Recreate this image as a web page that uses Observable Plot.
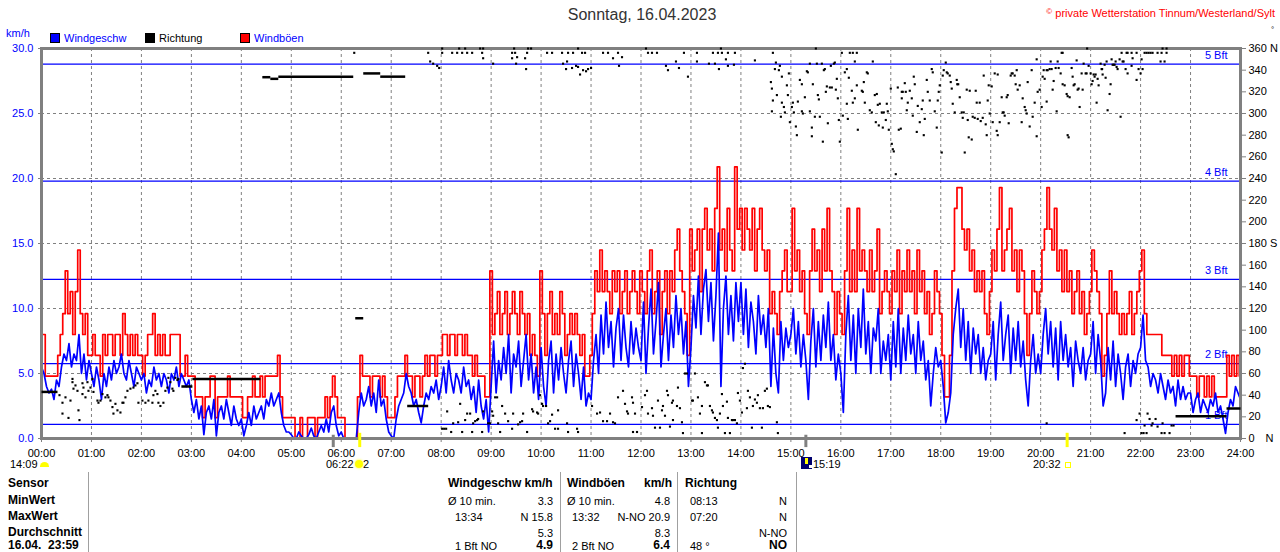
<!DOCTYPE html>
<html><head><meta charset="utf-8">
<script src="https://cdn.jsdelivr.net/npm/d3@7"></script>
<script src="https://cdn.jsdelivr.net/npm/@observablehq/plot@0.6"></script>
<style>
body{margin:0;background:#fff;font-family:"Liberation Sans",Arial,sans-serif;}
#wrap{position:relative;width:1280px;height:552px;overflow:hidden;background:#fff;}
#wrap svg{position:absolute;left:0;top:0;}
.t{position:absolute;white-space:nowrap;color:#000;}
.box{position:absolute;}
</style></head><body><div id="wrap"></div>
<script>
// ---- data (3-minute samples, 00:00 .. 24:00), km/h ----
const stepMinutes = 3;
const windSpeed = [
 5.5,5.0,4.0,3.5,3.8,3.0,4.5,4.0,5.5,6.5,6.0,7.3,5.5,6.5,6.0,8.0,5.0,6.5,4.5,6.0,        // 00
 5.0,4.0,5.5,4.5,3.0,5.0,4.0,5.5,4.5,6.0,5.0,5.5,6.5,5.0,4.5,6.0,5.0,4.0,5.5,5.0,        // 01
 4.5,5.0,3.5,4.5,4.0,5.5,4.5,5.0,4.0,5.0,4.5,3.5,5.0,4.5,5.5,4.0,5.0,4.5,4.0,4.5,        // 02
 3.0,2.0,3.0,1.5,2.5,0.3,2.0,2.5,1.5,3.0,0.2,2.0,2.5,1.5,3.0,2.0,1.0,2.5,1.5,1.0,        // 03
 1.5,0.2,1.0,2.0,1.0,2.5,1.5,2.0,2.5,1.5,3.0,2.5,3.5,2.5,3.0,3.5,2.0,1.0,0.5,0.5,        // 04
 0.3,0.0,0.0,0.5,0.2,0.0,0.0,0.3,0.8,0.2,0.0,0.5,1.0,0.5,1.5,0.5,2.0,2.5,1.0,0.2,        // 05
 0.5,0.0,0.0,0.0,0.0,0.0,0.0,2.0,3.5,2.5,3.0,4.0,2.5,3.5,2.0,4.5,2.5,3.0,1.5,0.5,        // 06
 0.2,0.0,1.5,2.5,3.0,3.5,5.0,4.0,3.5,2.5,3.0,2.0,1.2,2.5,3.5,3.0,4.0,3.5,4.5,3.0,        // 07
 4.0,5.5,3.5,6.0,4.5,3.5,5.0,4.5,3.5,5.5,4.0,4.5,3.0,4.0,2.0,4.5,2.5,1.5,3.0,0.5,        // 08
 4.0,7.5,3.5,6.0,4.5,7.0,5.0,8.0,3.5,6.5,5.5,7.5,4.0,6.0,8.0,4.5,6.5,3.5,5.5,3.0,        // 09
 7.0,4.0,2.5,6.0,7.5,3.5,6.5,4.5,7.0,5.0,3.5,6.0,7.5,4.0,6.5,5.0,3.0,5.5,2.5,3.5,        // 10
 3.0,6.0,8.0,5.0,9.5,6.5,10.5,7.0,9.0,5.5,8.5,10.0,6.0,9.5,7.0,5.5,9.0,6.5,8.5,7.0,      // 11
 6.0,10.5,5.0,8.5,11.5,6.5,9.0,12.0,5.5,8.0,10.0,6.0,9.5,7.0,11.0,8.0,10.0,6.5,9.0,4.0,  // 12
 7.0,11.0,8.5,12.5,8.0,11.5,13.0,9.0,12.0,7.5,11.0,15.8,4.0,10.0,12.5,8.0,11.0,7.5,12.0,9.0, // 13
 12.0,8.0,11.5,7.0,10.5,9.0,6.5,11.0,8.0,9.5,7.0,10.0,4.0,8.5,5.0,3.5,9.0,6.0,8.5,7.0,   // 14
 8.0,10.0,6.5,9.0,5.5,8.0,6.0,3.0,7.5,10.0,5.5,9.0,6.0,9.5,7.0,10.5,6.0,8.0,4.5,6.5,     // 15
 5.0,2.0,8.0,11.0,6.0,9.5,5.0,10.0,7.0,11.5,6.5,9.0,5.0,8.5,7.5,10.0,5.0,7.5,6.0,8.0,    // 16
 4.5,9.0,5.5,10.0,5.0,8.5,6.0,9.5,6.5,8.0,5.0,9.0,6.0,7.5,4.5,6.0,2.5,5.0,7.0,5.5,       // 17
 6.0,4.0,1.2,2.0,3.5,8.0,10.0,11.5,7.0,10.0,6.0,9.0,5.0,8.5,6.5,8.0,5.0,7.0,4.5,6.0,     // 18
 6.5,9.0,4.5,8.0,10.5,6.0,8.0,9.5,5.0,8.5,6.0,9.0,5.5,7.5,4.5,2.5,6.0,8.0,5.0,6.5,       // 19
 5.0,8.0,10.0,6.5,9.0,5.5,8.5,4.5,9.0,6.0,8.0,5.5,7.0,4.0,7.5,6.0,5.0,7.0,4.5,6.0,       // 20
 6.5,9.0,5.0,8.0,6.0,2.5,3.5,7.0,4.5,7.5,4.0,6.5,5.0,3.0,5.5,6.5,4.0,6.0,5.0,6.5,        // 21
 7.0,9.5,6.0,5.5,4.0,5.0,4.5,3.5,5.0,4.0,3.0,4.5,3.5,4.0,2.5,4.5,3.0,4.0,3.0,3.5,        // 22
 3.5,2.0,3.0,3.5,2.0,3.0,2.5,2.0,3.0,2.5,3.5,2.0,2.5,1.5,0.4,2.0,3.0,2.5,4.0,3.5,        // 23
 3.0
];
const windGust = [
 8.0,8.0,4.8,4.8,4.8,4.8,4.8,6.4,8.0,9.6,12.9,9.6,11.3,8.0,11.3,14.5,9.6,8.0,9.6,6.4,
 6.4,8.0,6.4,6.4,4.8,8.0,6.4,8.0,8.0,6.4,8.0,8.0,6.4,9.6,8.0,6.4,8.0,6.4,8.0,6.4,
 6.4,4.8,6.4,8.0,8.0,9.6,6.4,8.0,6.4,8.0,6.4,6.4,8.0,8.0,8.0,8.0,4.8,4.8,6.4,4.8,
 4.8,4.8,3.2,3.2,3.2,1.6,3.2,3.2,4.8,4.8,1.6,3.2,3.2,3.2,3.2,4.8,3.2,3.2,3.2,3.2,
 3.2,1.6,1.6,3.2,3.2,4.8,3.2,3.2,4.8,3.2,4.8,4.8,4.8,4.8,4.8,6.4,3.2,1.6,1.6,1.6,
 1.6,1.6,0.0,0.0,1.6,0.0,0.0,1.6,1.6,1.6,0.0,1.6,1.6,1.6,3.2,1.6,3.2,4.8,3.2,1.6,
 1.6,1.6,0.0,0.0,0.0,0.0,0.0,3.2,6.4,4.8,4.8,4.8,3.2,4.8,4.8,4.8,3.2,4.8,3.2,1.6,
 1.6,1.6,3.2,4.8,4.8,4.8,6.4,4.8,4.8,3.2,4.8,4.8,3.2,4.8,6.4,4.8,6.4,6.4,4.8,6.4,
 6.4,8.0,8.0,6.4,8.0,8.0,6.4,8.0,8.0,6.4,8.0,6.4,6.4,4.8,6.4,4.8,4.8,4.8,3.2,3.2,
 12.9,8.0,9.6,11.3,8.0,9.6,11.3,8.0,9.6,11.3,9.6,8.0,11.3,9.6,8.0,9.6,6.4,8.0,6.4,4.8,
 12.9,9.6,6.4,9.6,11.3,8.0,9.6,8.0,11.3,9.6,6.4,8.0,9.6,8.0,9.6,8.0,6.4,8.0,4.8,4.8,
 6.4,9.6,12.9,11.3,14.5,11.3,12.9,11.3,9.6,12.9,11.3,12.9,9.6,11.3,12.9,9.6,11.3,12.9,11.3,9.6,
 12.9,11.3,9.6,12.9,14.5,9.6,11.3,12.9,8.0,11.3,12.9,9.6,12.9,11.3,14.5,16.1,12.9,11.3,9.6,6.4,
 16.1,12.9,14.5,16.1,11.3,16.1,17.7,14.5,16.1,12.9,17.7,20.9,14.5,16.1,12.9,17.7,14.5,12.9,20.9,16.1,
 17.7,14.5,17.7,16.1,14.5,17.7,12.9,16.1,17.7,14.5,12.9,14.5,9.6,11.3,9.6,8.0,11.3,12.9,14.5,11.3,
 11.3,17.7,12.9,14.5,11.3,12.9,9.6,8.0,12.9,16.1,12.9,14.5,11.3,16.1,12.9,17.7,12.9,11.3,8.0,11.3,
 9.6,8.0,12.9,17.7,11.3,14.5,11.3,17.7,12.9,14.5,12.9,11.3,14.5,11.3,12.9,16.1,9.6,11.3,12.9,11.3,
 9.6,12.9,11.3,14.5,9.6,12.9,11.3,14.5,11.3,12.9,9.6,14.5,11.3,12.9,9.6,11.3,8.0,9.6,12.9,11.3,
 9.6,6.4,3.2,3.2,6.4,12.9,17.7,19.3,19.3,16.1,14.5,16.1,12.9,14.5,11.3,12.9,11.3,12.9,9.6,8.0,
 11.3,14.5,12.9,16.1,19.3,12.9,14.5,16.1,17.7,12.9,14.5,11.3,14.5,12.9,9.6,6.4,9.6,12.9,11.3,9.6,
 11.3,14.5,16.1,19.3,16.1,14.5,17.7,12.9,14.5,11.3,14.5,11.3,12.9,9.6,11.3,12.9,9.6,11.3,8.0,9.6,
 11.3,14.5,12.9,11.3,9.6,4.8,6.4,9.6,12.9,9.6,11.3,9.6,8.0,9.6,8.0,9.6,11.3,8.0,9.6,11.3,
 12.9,14.5,9.6,8.0,8.0,8.0,8.0,8.0,8.0,6.4,6.4,6.4,6.4,4.8,6.4,4.8,6.4,4.8,6.4,6.4,
 4.8,4.8,4.8,3.2,4.8,4.8,3.2,4.8,3.2,4.8,3.2,3.2,3.2,3.2,3.2,6.4,4.8,6.4,4.8,6.4,
 4.8
];
// wind direction samples: [hour, degrees]
const dirDots = [
 [0.36,40],[0.42,33],[0.42,23],[0.48,38],[0.54,19],[0.58,35],[0.62,55],[0.62,52],[0.64,46],[0.68,49],[0.72,44],[0.74,26],[0.76,17],[0.82,51],[0.82,41],[0.84,47],[0.88,38],[0.92,52],[0.94,44],[0.98,47],
 [1.02,55],[1.04,43],[1.12,35],[1.14,33],[1.18,35],[1.22,41],[1.28,38],[1.32,40],[1.34,38],[1.38,35],[1.42,29],[1.44,23],[1.48,32],[1.52,26],[1.58,24],[1.62,33],[1.64,33],[1.68,38],[1.72,44],[1.78,46],[1.84,47],[1.88,49],[1.92,51],[1.94,33],
 [2.02,35],[2.08,33],[2.14,35],[2.22,33],[2.24,40],[2.28,44],[2.32,41],[2.34,33],[2.38,30],[2.44,33],[2.48,44],[2.52,47],[2.54,56],[2.58,52],[2.62,46],[2.64,44],[2.68,56],[2.72,54],[2.74,55],
 [6.26,356],
 [7.74,356],[7.78,348],[7.84,346],[7.92,344],[7.96,342],[8.02,356],[8.22,356],[8.32,356],[8.42,356],[8.52,356],[8.62,356],[8.82,356],[8.84,351],[9.04,346],[9.42,356],[9.48,356],[9.42,351],[9.52,352],[9.68,351],[9.5,346],[9.7,341],[9.72,356],
 [10.12,356],[10.22,356],[10.42,356],[10.54,356],[10.64,356],[10.82,356],[10.88,356],[10.44,346],[10.52,348],[10.5,341],[10.62,342],[10.7,344],[10.74,343],[10.78,336],[10.84,340],[10.9,339],[10.94,341],[11.0,342],
 [11.24,356],[11.34,356],[11.44,351],[11.54,356],[11.56,344],[11.62,352],[12.14,356],[12.22,356],[12.32,356],[12.5,344],[12.54,340],[12.7,348],[12.76,342],[12.86,356],[12.94,334],
 [13.12,356],[13.12,348],[13.36,346],[13.44,356],[13.54,356],[13.62,356],[13.74,356],[13.88,356],[13.48,346],[13.56,341],[13.7,350],[13.74,344],[13.86,345],[14.28,349],
 [8.02,360],[8.36,360],[8.48,360],[8.78,360],[8.84,360],[9.46,360],[9.74,360],[9.8,360],[10.74,360],[12.1,360],[13.6,360],
 [8.02,9],[8.06,9],[8.1,9],[8.12,25],[8.2,6],[8.24,14],[8.34,15],[8.38,32],[8.42,6],[8.48,17],[8.52,23],[8.58,23],[8.62,6],[8.64,14],[8.68,16],[8.72,17],[8.74,18],[8.82,6],[8.84,25],[8.94,14],[8.98,14],
 [9.02,25],[9.04,21],[9.08,38],[9.12,38],[9.14,14],[9.18,6],[9.22,30],[9.28,23],[9.34,16],[9.42,9],[9.44,23],[9.54,13],[9.58,15],[9.62,16],[9.64,23],[9.72,6],[9.82,27],[9.84,25],[9.92,24],[9.94,23],[9.98,40],
 [10.02,32],[10.04,30],[10.1,30],[10.14,14],[10.18,16],[10.22,22],[10.28,9],[10.34,9],[10.34,26],[10.52,14],[10.54,6],[10.72,9],[10.74,6],
 [11.02,30],[11.12,23],[11.18,24],[11.24,16],[11.32,16],[11.38,23],[11.44,15],[11.48,14],[11.54,38],[11.64,44],[11.68,32],[11.72,25],[11.74,23],[11.82,38],[11.84,33],[11.88,23],[11.92,6],[11.84,6],
 [12.02,29],[12.08,40],[12.12,44],[12.14,23],[12.22,28],[12.24,21],[12.28,10],[12.34,35],[12.38,10],[12.42,26],[12.44,30],[12.48,21],[12.52,44],[12.54,40],[12.58,11],[12.62,33],[12.64,35],[12.64,17],[12.72,30],[12.74,47],[12.78,28],[12.82,15],[12.84,5],[12.88,60],[12.92,60],
 [13.02,35],[13.04,35],[13.08,60],[13.14,38],[13.18,23],[13.22,30],[13.22,5],[13.28,52],[13.32,49],[13.34,49],[13.38,30],[13.42,26],[13.44,24],[13.48,19],[13.52,17],[13.54,10],[13.58,23],[13.62,41],[13.64,30],[13.68,5],[13.72,34],[13.74,19],[13.78,5],[13.82,17],[13.84,17],[13.88,17],[13.92,14],[13.94,42],[13.98,35],
 [14.02,24],[14.04,65],[14.08,69],[14.12,28],[14.14,44],[14.18,38],[14.22,10],[14.24,30],[14.28,36],[14.32,33],[14.34,40],[14.38,28],[14.42,10],[14.44,28],[14.48,44],[14.52,46],[14.54,30],[14.58,29],[14.72,15],[14.74,5],
 [14.64,356],[14.7,347],[14.78,344],[14.68,341],[14.76,340],[14.6,329],[14.62,323],[14.82,334],[14.64,312],[14.62,302],[14.72,317],[14.82,310],[14.86,306],[14.88,301],[14.92,326],[14.8,297],[14.94,317],[14.98,292],[14.96,337],
 [15.04,310],[15.02,306],[15.06,301],[15.1,288],[15.12,280],[15.14,311],[15.18,331],[15.22,302],[15.24,300],[15.22,327],[15.28,315],[15.32,339],[15.34,338],[15.38,346],[15.42,287],[15.38,302],[15.44,327],[15.42,279],[15.48,297],[15.5,360],[15.52,346],[15.54,317],[15.56,313],[15.58,297],[15.62,346],[15.64,274],[15.66,340],[15.68,341],[15.7,320],[15.72,325],[15.74,291],[15.78,324],[15.8,344],[15.82,324],[15.86,346],[15.88,347],[15.9,322],[15.92,332],[15.94,314],[15.96,294],[15.98,274],
 [16.02,356],[16.04,298],[16.08,338],[16.12,341],[16.18,356],[16.24,356],[16.32,356],[16.12,309],[16.14,295],[16.16,333],[16.22,321],[16.24,310],[16.28,348],[16.28,314],[16.32,326],[16.34,285],[16.42,321],[16.44,320],[16.48,310],[16.46,329],[16.52,338],[16.54,337],[16.58,303],[16.62,301],[16.64,348],[16.68,317],[16.7,292],[16.72,318],[16.74,308],[16.76,289],[16.78,309],[16.82,301],[16.84,287],[16.86,301],[16.9,294],[16.92,309],[16.94,302],[16.96,285],
 [17.0,323],[17.02,272],[17.04,267],[17.06,265],[17.1,244],[17.14,324],[17.16,285],[17.2,286],[17.22,320],[17.22,314],[17.24,320],[17.28,328],[17.3,320],[17.32,303],[17.34,310],[17.38,321],[17.42,314],[17.44,298],[17.46,334],[17.48,327],[17.52,283],[17.54,307],[17.58,292],[17.62,304],[17.64,312],[17.66,280],[17.68,295],[17.72,331],[17.74,320],[17.78,312],[17.82,341],[17.84,338],[17.88,302],[17.92,287],[17.94,312],[17.96,320],[17.98,326],
 [18.02,264],[18.04,335],[18.06,340],[18.1,347],[18.12,338],[18.14,337],[18.18,335],[18.2,329],[18.22,323],[18.24,309],[18.28,301],[18.32,331],[18.33,327],[18.35,327],[18.38,315],[18.42,301],[18.44,296],[18.46,301],[18.48,264],[18.52,322],[18.54,294],[18.56,278],[18.58,321],[18.62,276],[18.64,297],[18.68,296],[18.7,321],[18.72,310],[18.74,295],[18.78,310],[18.8,293],[18.84,296],[18.86,335],[18.9,290],[18.92,280],[18.94,312],[18.96,326],[18.98,300],
 [19.02,325],[19.04,292],[19.08,337],[19.12,284],[19.14,280],[19.14,336],[19.18,292],[19.22,315],[19.24,301],[19.26,301],[19.28,298],[19.32,315],[19.34,317],[19.36,291],[19.4,335],[19.42,337],[19.44,337],[19.48,335],[19.5,327],[19.52,340],[19.54,322],[19.58,326],[19.62,292],[19.64,314],[19.68,306],[19.7,303],[19.72,300],[19.74,329],[19.78,288],[19.82,340],[19.84,297],[19.88,310],[19.92,350],[19.92,279],[19.94,320],[19.98,322],
 [20.02,306],[20.04,334],[20.06,340],[20.08,332],[20.12,340],[20.12,311],[20.14,340],[20.18,341],[20.2,348],[20.22,341],[20.24,322],[20.26,330],[20.3,342],[20.32,302],[20.34,348],[20.36,342],[20.4,337],[20.42,356],[20.44,356],[20.44,327],[20.48,326],[20.52,318],[20.54,280],[20.56,278],[20.54,316],[20.58,315],[20.62,342],[20.64,334],[20.66,326],[20.68,327],[20.72,349],[20.74,322],[20.76,323],[20.78,306],[20.82,337],[20.84,322],[20.86,346],[20.9,337],[20.92,337],[20.93,360],[20.96,344],
 [21.0,337],[21.02,327],[21.04,330],[21.06,336],[21.08,334],[21.1,336],[21.12,310],[21.14,332],[21.16,326],[21.2,346],[21.22,341],[21.23,341],[21.24,336],[21.28,345],[21.3,333],[21.32,348],[21.34,303],[21.38,318],[21.4,327],[21.42,350],[21.44,345],[21.46,345],[21.48,345],[21.5,348],[21.52,343],[21.54,341],[21.58,350],[21.6,297],[21.62,356],[21.64,348],[21.66,348],[21.7,341],[21.72,356],[21.74,356],[21.82,356],[21.74,337],[21.82,344],[21.84,351],[21.92,356],[21.92,331],[21.96,341],
 [22.0,337],[22.02,350],[22.04,341],[22.08,356],[22.12,356],[22.16,356],[22.2,356],[22.24,356],[22.34,356],[22.42,356],[22.52,356],[22.4,348],[22.48,348],[22.44,360],[22.52,360],
 [20.12,14],[21.68,5],[21.92,17],[21.98,23],[22.02,5],[22.06,5],[22.08,12],[22.12,5],[22.14,23],[22.18,18],[22.22,12],[22.24,14],[22.3,18],[22.34,11],[22.42,5],[22.44,14],[22.48,5],[22.58,5],[22.62,12],[22.66,12]
];
// periods of steady direction: [from hour, to hour, degrees]
const dirRuns = [
 [0.0,0.32,43],[2.8,3.02,48],[3.02,4.38,55],[4.42,4.58,333.5],[4.58,4.74,332],[4.74,6.24,334],
 [6.28,6.44,111],[6.44,6.78,337],[6.78,7.28,334],[7.32,7.74,30],[22.7,23.72,20.6],[23.72,24,27.7]
];
const hourTicks = d3.range(0, 25);
const hourLabels = hourTicks.map(h => String(h).padStart(2, "0") + ":00");
const speedTicks = [0, 5, 10, 15, 20, 25, 30];
const speedTickLabels = ["0.0", "5.0", "10.0", "15.0", "20.0", "25.0", "30.0"];
const dirTicks = d3.range(0, 361, 20);
const dirTickLabels = ["0\u2002\u2002N","20","40","60","80","100","120","140","160","180 S","200","220","240","260","280","300","320","340","360 N"];
const bftLevels = [1.08, 5.76, 12.24, 19.8, 28.8];
const bftLabels = ["1 Bft", "2 Bft", "3 Bft", "4 Bft", "5 Bft"];
const sunTimes = [6.37, 20.53];
const moonTimes = [5.84, 15.3];

const speedData = windSpeed.map((v, i) => ({t: i * stepMinutes / 60, v}));
const gustData = windGust.map((v, i) => ({t: i * stepMinutes / 60, v}));
const degToY = d => d / 12;

const chart = Plot.plot({
  width: 1280, height: 552,
  marginLeft: 41, marginRight: 40, marginTop: 48, marginBottom: 114,
  x: {domain: [0, 24]},
  y: {domain: [0, 30]},
  style: {fontFamily: "'Liberation Sans', Arial, sans-serif", fontSize: "11px", background: "transparent", overflow: "visible"},
  marks: [
    Plot.ruleX(hourTicks.filter(h => h > 0 && h < 24), {stroke: "#808080", strokeDasharray: "3,3", strokeWidth: 1}),
    Plot.ruleY(speedTicks.filter(v => v > 0 && v < 30), {stroke: "#808080", strokeDasharray: "3,3", strokeWidth: 1}),
    Plot.ruleY(bftLevels, {stroke: "#0000ff", strokeWidth: 1.2}),
    Plot.text(bftLevels, {x: () => 24, y: d => d, text: (d, i) => bftLabels[i], textAnchor: "end", dx: -13, dy: -9, fill: "#0000ff", fontSize: 11}),
    Plot.line(gustData, {x: "t", y: "v", curve: "step", stroke: "#ff0000", strokeWidth: 1.7}),
    Plot.line(speedData, {x: "t", y: "v", stroke: "#0000ff", strokeWidth: 1.7}),
    Plot.frame({stroke: "#808080", strokeWidth: 3}),
    Plot.link(dirRuns, {x1: d => d[0], x2: d => d[1], y1: d => degToY(d[2]), y2: d => degToY(d[2]), stroke: "#000", strokeWidth: 2.5}),
    Plot.dot(dirDots, {x: d => d[0], y: d => degToY(d[1]), symbol: "square", r: 1.2, fill: "#000"}),
    Plot.ruleX(moonTimes, {y1: 0.25, y2: -0.7, stroke: "#808080", strokeWidth: 3}),
    Plot.ruleX(sunTimes, {y1: 0.4, y2: -0.7, stroke: "#ffff00", strokeWidth: 3}),
    Plot.axisY({anchor: "left", ticks: speedTicks, tickFormat: (d) => speedTickLabels[speedTicks.indexOf(d)], tickSize: 3, tickPadding: 5, fill: "#0000ff", stroke: "#808080", fontSize: 11, label: null}),
    Plot.axisY({anchor: "right", ticks: dirTicks.map(degToY), tickFormat: v => dirTickLabels[Math.round(v * 12 / 20)], tickSize: 5, tickPadding: 3, fill: "#000", stroke: "#808080", fontSize: 11, label: null}),
    Plot.axisX({ticks: hourTicks, tickFormat: h => hourLabels[h], tickSize: 4, tickPadding: 7, fill: "#000", stroke: "#808080", fontSize: 11, label: null})
  ]
});
const wrap = document.getElementById("wrap");
wrap.appendChild(chart);

function txt(s, x, y, o = {}) {
  const d = document.createElement("div");
  d.className = "t";
  d.innerHTML = s;
  const fs = o.size || 11;
  d.style.fontSize = fs + "px";
  d.style.lineHeight = (fs * 1.3) + "px";
  d.style.top = (y - fs * 0.64) + "px";
  if (o.align === "right") d.style.right = (1280 - x) + "px";
  else if (o.align === "center") { d.style.left = x + "px"; d.style.transform = "translateX(-50%)"; }
  else d.style.left = x + "px";
  if (o.color) d.style.color = o.color;
  if (o.bold) d.style.fontWeight = "bold";
  wrap.appendChild(d);
}
function box(x, y, w, h, css) {
  const d = document.createElement("div");
  d.className = "box";
  d.style.left = x + "px"; d.style.top = y + "px"; d.style.width = w + "px"; d.style.height = h + "px";
  d.style.cssText += css;
  wrap.appendChild(d);
}
// title and header
txt("Sonntag, 16.04.2023", 642, 15, {size: 16, align: "center", color: "#333"});
txt("<span style='font-size:8px;vertical-align:3px'>&copy;</span> private Wetterstation Tinnum/Westerland/Sylt", 1275, 12, {align: "right", color: "#ff0000"});
txt("°", 1271, 30, {size: 8, color: "#000"});
txt("km/h", 6, 33, {color: "#0000ff"});
// legend
box(50, 33, 8, 8, "background:#0000ff;border:1px solid #000;");
txt("Windgeschw", 64, 38, {color: "#0000ff"});
box(145, 33, 8, 8, "background:#000;border:1px solid #000;");
txt("Richtung", 159, 38, {color: "#000"});
box(240, 33, 8, 8, "background:#ff0000;border:1px solid #000;");
txt("Windböen", 254, 38, {color: "#0000ff"});
// sun / moon annotations
txt("14:09", 10, 464);
box(40, 462, 9, 5, "background:#ffff00;border-radius:5px 5px 0 0;");
txt("06:22", 326, 464);
box(355, 460, 8, 8, "background:#ffff00;border-radius:50%;box-shadow:0 0 2px 1px #ffffa0;");
txt("2", 363, 464);
box(801, 457, 11, 12, "background:#00006e;");
box(805, 458, 3, 6, "background:#ffff00;");
box(809, 465, 3, 3, "background:#fff;");
txt("15:19", 813, 464);
txt("20:32", 1033, 464);
box(1065, 462, 4, 4, "border:1px solid #ffff00;");
// table
[88, 560, 677, 796].forEach(x => box(x, 472, 1, 80, "background:#a0a0a0;"));
const rowY = [484, 501, 517, 533, 546];
const rowLabels = ["Sensor", "MinWert", "MaxWert", "Durchschnitt", "16.04.&nbsp;&nbsp;23:59"];
rowLabels.forEach((s, i) => txt(s, 8, rowY[i], {bold: true, size: 12}));
txt("Windgeschw km/h", 448, rowY[0], {bold: true, size: 12});
txt("Windböen", 567, rowY[0], {bold: true, size: 12});
txt("km/h", 672, rowY[0], {bold: true, size: 12, align: "right"});
txt("Richtung", 685, rowY[0], {bold: true, size: 12});
txt("Ø 10 min.", 448, rowY[1]); txt("3.3", 553, rowY[1], {align: "right"});
txt("Ø 10 min.", 567, rowY[1]); txt("4.8", 670, rowY[1], {align: "right"});
txt("08:13", 690, rowY[1]); txt("N", 787, rowY[1], {align: "right"});
txt("13:34", 455, rowY[2]); txt("N 15.8", 553, rowY[2], {align: "right"});
txt("13:32", 572, rowY[2]); txt("N-NO 20.9", 670, rowY[2], {align: "right"});
txt("07:20", 690, rowY[2]); txt("N", 787, rowY[2], {align: "right"});
txt("5.3", 553, rowY[3], {align: "right"});
txt("8.3", 670, rowY[3], {align: "right"});
txt("N-NO", 787, rowY[3], {align: "right"});
txt("1 Bft NO", 455, rowY[4]); txt("4.9", 553, rowY[4], {align: "right", bold: true, size: 12});
txt("2 Bft NO", 572, rowY[4]); txt("6.4", 670, rowY[4], {align: "right", bold: true, size: 12});
txt("48 °", 690, rowY[4]); txt("NO", 787, rowY[4], {align: "right", bold: true, size: 12});
</script>
</body></html>
